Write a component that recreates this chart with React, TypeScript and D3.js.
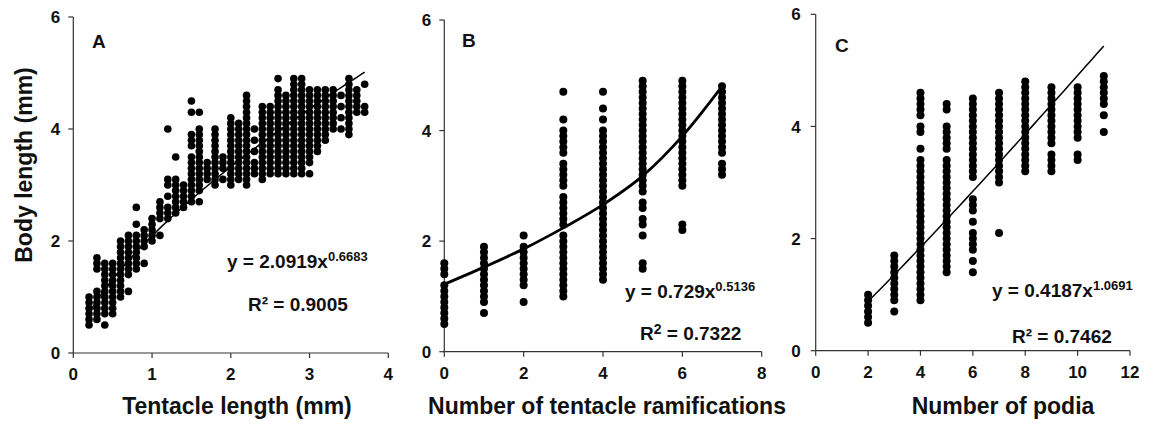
import React from 'react';
import * as d3 from 'd3';

// ---------- DATA ----------
// Panel A: tentacle length (mm) columns, body length values in tenths of mm
const aX = [0.2, 0.3, 0.4, 0.5, 0.6, 0.7, 0.8, 0.9, 1.0, 1.1, 1.2, 1.3, 1.4, 1.5, 1.6, 1.7, 1.8, 1.9, 2.0, 2.1, 2.2, 2.3, 2.4, 2.5, 2.6, 2.7, 2.8, 2.9, 3.0, 3.1, 3.2, 3.3, 3.4, 3.5, 3.6, 3.7];
const aY = [
  [5, 6, 7, 8, 9, 10],
  [6, 7, 8, 9, 10, 11, 15, 16, 17],
  [5, 7, 8, 9, 10, 11, 12, 13, 14, 15, 16],
  [7, 8, 9, 10, 11, 12, 13, 14, 15, 16],
  [10, 11, 12, 13, 14, 15, 16, 17, 18, 19, 20],
  [11, 14, 15, 16, 17, 18, 19, 20, 21],
  [15, 16, 17, 18, 19, 20, 21, 23, 26],
  [16, 19, 20, 21, 22],
  [20, 21, 22, 23, 24],
  [21, 24, 25, 26, 27],
  [24, 25, 26, 28, 30, 31, 40],
  [25, 26, 27, 28, 29, 30, 31, 35],
  [26, 27, 28, 29, 30],
  [27, 28, 29, 30, 31, 32, 33, 34, 35, 37, 38, 39, 43, 45],
  [27, 29, 30, 31, 32, 33, 34, 35, 36, 37, 38, 39, 40, 43],
  [31, 32, 33, 34],
  [30, 31, 32, 33, 34, 35, 36, 37, 38, 39, 40],
  [31, 33, 34, 35],
  [30, 31, 32, 33, 34, 35, 36, 37, 38, 39, 40, 41, 42],
  [31, 32, 33, 34, 35, 36, 37, 38, 39, 40, 41],
  [30, 31, 32, 33, 34, 35, 36, 37, 38, 39, 40, 41, 42, 43, 44, 45, 46],
  [32, 33, 34, 36, 38, 40],
  [31, 32, 33, 34, 35, 36, 37, 38, 39, 40, 41, 42, 43, 44],
  [32, 33, 34, 35, 36, 37, 38, 39, 40, 41, 42, 43, 44],
  [32, 33, 34, 35, 36, 37, 38, 39, 40, 41, 42, 43, 44, 45, 46, 47, 49],
  [32, 33, 34, 35, 36, 37, 38, 39, 40, 41, 42, 43, 44, 45, 46],
  [32, 33, 34, 35, 36, 37, 38, 39, 40, 41, 42, 43, 44, 45, 46, 47, 48, 49],
  [32, 33, 34, 35, 36, 37, 38, 39, 40, 41, 42, 43, 44, 45, 46, 47, 48, 49],
  [32, 34, 35, 36, 37, 38, 39, 40, 41, 42, 43, 44, 45, 46, 47],
  [36, 37, 38, 39, 40, 41, 42, 43, 44, 45, 46, 47],
  [38, 39, 40, 41, 42, 43, 44, 45, 46, 47],
  [40, 41, 42, 43, 44, 45, 46, 47],
  [40, 42, 44, 46],
  [39, 40, 41, 42, 43, 44, 45, 46, 47, 48, 49],
  [43, 44, 45, 46, 47],
  [43, 44, 48],
];

// Panel B: number of tentacle ramifications, body length in tenths of mm
const bX = [0, 1, 2, 3, 4, 5, 6, 7];
const bY = [
  [5, 6, 7, 8, 9, 10, 11, 12, 14, 15, 16],
  [7, 9, 10, 11, 12, 13, 14, 15, 16, 17, 18, 19],
  [9, 12, 13, 14, 15, 16, 17, 18, 19, 21],
  [10, 11, 12, 13, 14, 15, 16, 17, 18, 19, 20, 21, 23, 24, 25, 26, 27, 28, 30, 31, 32, 33, 34, 36, 37, 38, 39, 40, 42, 47],
  [13, 14, 15, 16, 17, 18, 19, 20, 21, 22, 23, 24, 25, 26, 27, 28, 29, 30, 31, 32, 33, 34, 35, 36, 37, 38, 39, 40, 42, 44, 47],
  [15, 16, 21, 23, 24, 26, 27, 29, 30, 31, 32, 33, 34, 35, 36, 37, 38, 39, 40, 41, 42, 43, 44, 45, 46, 47, 48, 49],
  [22, 23, 30, 31, 32, 33, 34, 35, 36, 37, 38, 39, 40, 41, 42, 43, 44, 45, 46, 47, 48, 49],
  [32, 33, 34, 36, 37, 38, 39, 40, 41, 42, 43, 44, 45, 46, 47, 48],
];
// Fitted curve of panel B as drawn
const bCurveX = [0, 1, 2, 3, 4, 5, 6, 7];
const bCurveY = [1.22, 1.53, 1.86, 2.24, 2.66, 3.18, 3.9, 4.8];

// Panel C: number of podia, body length in tenths of mm
const cX = [2, 3, 4, 5, 6, 7, 8, 9, 10, 11];
const cY = [
  [5, 6, 7, 8, 9, 10],
  [7, 9, 10, 11, 12, 13, 14, 15, 16, 17],
  [9, 10, 11, 12, 13, 14, 15, 16, 17, 18, 19, 20, 21, 22, 23, 24, 25, 26, 27, 28, 29, 30, 31, 32, 33, 34, 36, 39, 40, 42, 43, 44, 45, 46],
  [14, 15, 16, 17, 18, 19, 20, 21, 22, 23, 24, 25, 26, 27, 28, 29, 30, 31, 32, 33, 34, 36, 37, 38, 39, 40, 43, 44],
  [14, 16, 18, 19, 20, 21, 23, 25, 26, 27, 31, 32, 33, 34, 35, 36, 37, 38, 39, 40, 41, 42, 43, 44, 45],
  [21, 30, 31, 32, 33, 34, 35, 36, 37, 38, 39, 40, 41, 42, 43, 44, 45, 46],
  [32, 33, 34, 35, 36, 37, 38, 39, 40, 41, 42, 43, 44, 45, 46, 47, 48],
  [32, 33, 34, 35, 37, 38, 39, 40, 41, 42, 43, 44, 45, 46, 47],
  [34, 35, 38, 39, 40, 41, 42, 43, 44, 45, 46, 47],
  [39, 42, 44, 45, 46, 47, 48, 49],
];

const aTicksX = [0, 1, 2, 3, 4];
const bTicksX = [0, 2, 4, 6, 8];
const cTicksX = [0, 2, 4, 6, 8, 10, 12];
const ticksY = [0, 2, 4, 6];

const FONT = "'Liberation Sans', Arial, Helvetica, sans-serif";
const INK = '#111';

type PanelProps = {
  x: d3.ScaleLinear<number, number>;
  y: d3.ScaleLinear<number, number>;
  xTicks: number[];
  cols: number[];
  vals: number[][];
  r: number;
  line: [number, number][];
  lineWidth: number;
  curved?: boolean;
  labelGap: number;
  letter: string;
  letterPos: [number, number];
  xTitle: string;
  xTitlePos: [number, number];
  children?: React.ReactNode;
};

function Panel(p: PanelProps) {
  const [x0, x1] = p.x.range();
  const [yb, yt] = p.y.range();
  const pts: [number, number][] = [];
  p.cols.forEach((cx, i) => p.vals[i].forEach((v) => pts.push([cx, v / 10])));
  const lineGen = d3
    .line<[number, number]>()
    .x((d) => p.x(d[0]))
    .y((d) => p.y(d[1]))
    .curve(p.curved ? d3.curveMonotoneX : d3.curveLinear);
  return (
    <g>
      {/* axes */}
      <line x1={x0} x2={x0} y1={yb} y2={yt} stroke="#333" strokeWidth={1.2} />
      <line x1={x0} x2={x1} y1={yb} y2={yb} stroke="#333" strokeWidth={1.2} />
      {ticksY.map((t) => (
        <g key={'y' + t}>
          <line x1={x0 - 5} x2={x0} y1={p.y(t)} y2={p.y(t)} stroke="#333" strokeWidth={1.2} />
          <text x={x0 - p.labelGap} y={p.y(t)} dy="0.36em" textAnchor="end" fontSize={17} fontWeight="bold" fill={INK} fontFamily={FONT}>
            {t}
          </text>
        </g>
      ))}
      {p.xTicks.map((t) => (
        <g key={'x' + t}>
          <line x1={p.x(t)} x2={p.x(t)} y1={yb} y2={yb + 5} stroke="#333" strokeWidth={1.2} />
          <text x={p.x(t)} y={yb + 27} textAnchor="middle" fontSize={17} fontWeight="bold" fill={INK} fontFamily={FONT}>
            {t}
          </text>
        </g>
      ))}
      {/* points */}
      {pts.map((d, i) => (
        <circle key={i} cx={p.x(d[0])} cy={p.y(d[1])} r={p.r} fill="#000" />
      ))}
      {/* trend */}
      <path d={lineGen(p.line) || ''} fill="none" stroke="#000" strokeWidth={p.lineWidth} />
      {/* letter */}
      <text x={p.letterPos[0]} y={p.letterPos[1]} fontSize={19} fontWeight="bold" fill={INK} fontFamily={FONT}>
        {p.letter}
      </text>
      <text x={p.xTitlePos[0]} y={p.xTitlePos[1]} textAnchor="middle" fontSize={23} fontWeight="bold" fill={INK} fontFamily={FONT}>
        {p.xTitle}
      </text>
      {p.children}
    </g>
  );
}

export default function App() {
  const ax = d3.scaleLinear().domain([0, 4]).range([73.3, 388.3]);
  const ay = d3.scaleLinear().domain([0, 6]).range([353, 17]);
  const bx = d3.scaleLinear().domain([0, 8]).range([444.3, 761.7]);
  const by = d3.scaleLinear().domain([0, 6]).range([351.7, 20]);
  const cx = d3.scaleLinear().domain([0, 12]).range([815.7, 1130]);
  const cy = d3.scaleLinear().domain([0, 6]).range([350.7, 14.3]);

  const aLine: [number, number][] = d3.range(0.2, 3.7001, 0.05).map((v) => [v, 2.0919 * Math.pow(v, 0.6683)]);
  const cLine: [number, number][] = d3.range(2, 11.0001, 0.25).map((v) => [v, 0.4187 * Math.pow(v, 1.0691)]);
  const bLine: [number, number][] = bCurveX.map((v, i) => [v, bCurveY[i]]);

  const eq = { fontFamily: FONT, fontWeight: 'bold' as const, fill: INK };

  return (
    <svg width={1153} height={425} style={{ position: 'absolute', left: 0, top: 0, background: '#fff' }}>
      <rect width={1153} height={425} fill="#fff" />
      <text transform="translate(32,165) rotate(-90)" textAnchor="middle" fontSize={23} {...eq}>
        Body length (mm)
      </text>
      <Panel x={ax} y={ay} xTicks={aTicksX} cols={aX} vals={aY} r={3.8} line={aLine} lineWidth={1.5}
        labelGap={13} letter="A" letterPos={[92, 48]} xTitle="Tentacle length (mm)" xTitlePos={[237, 414]}>
        <text x={227} y={268} fontSize={19} {...eq}>
          y = 2.0919x<tspan fontSize={13} dy={-7}>0.6683</tspan>
        </text>
        <text x={248} y={311} fontSize={19} {...eq}>
          R² = 0.9005
        </text>
      </Panel>
      <Panel x={bx} y={by} xTicks={bTicksX} cols={bX} vals={bY} r={4} line={bLine} lineWidth={2.8} curved
        labelGap={13} letter="B" letterPos={[462, 47]} xTitle="Number of tentacle ramifications" xTitlePos={[607, 414]}>
        <text x={625} y={298} fontSize={19} {...eq}>
          y = 0.729x<tspan fontSize={13} dy={-7}>0.5136</tspan>
        </text>
        <text x={640} y={340} fontSize={19} {...eq}>
          R<tspan fontSize={14} dy={-6}>2</tspan><tspan dy={6}> = 0.7322</tspan>
        </text>
      </Panel>
      <Panel x={cx} y={cy} xTicks={cTicksX} cols={cX} vals={cY} r={4} line={cLine} lineWidth={1.5}
        labelGap={15} letter="C" letterPos={[835, 52]} xTitle="Number of podia" xTitlePos={[1003, 414]}>
        <text x={992} y={297} fontSize={19} {...eq}>
          y = 0.4187x<tspan fontSize={13} dy={-7}>1.0691</tspan>
        </text>
        <text x={1012} y={343} fontSize={19} {...eq}>
          R² = 0.7462
        </text>
      </Panel>
    </svg>
  );
}
